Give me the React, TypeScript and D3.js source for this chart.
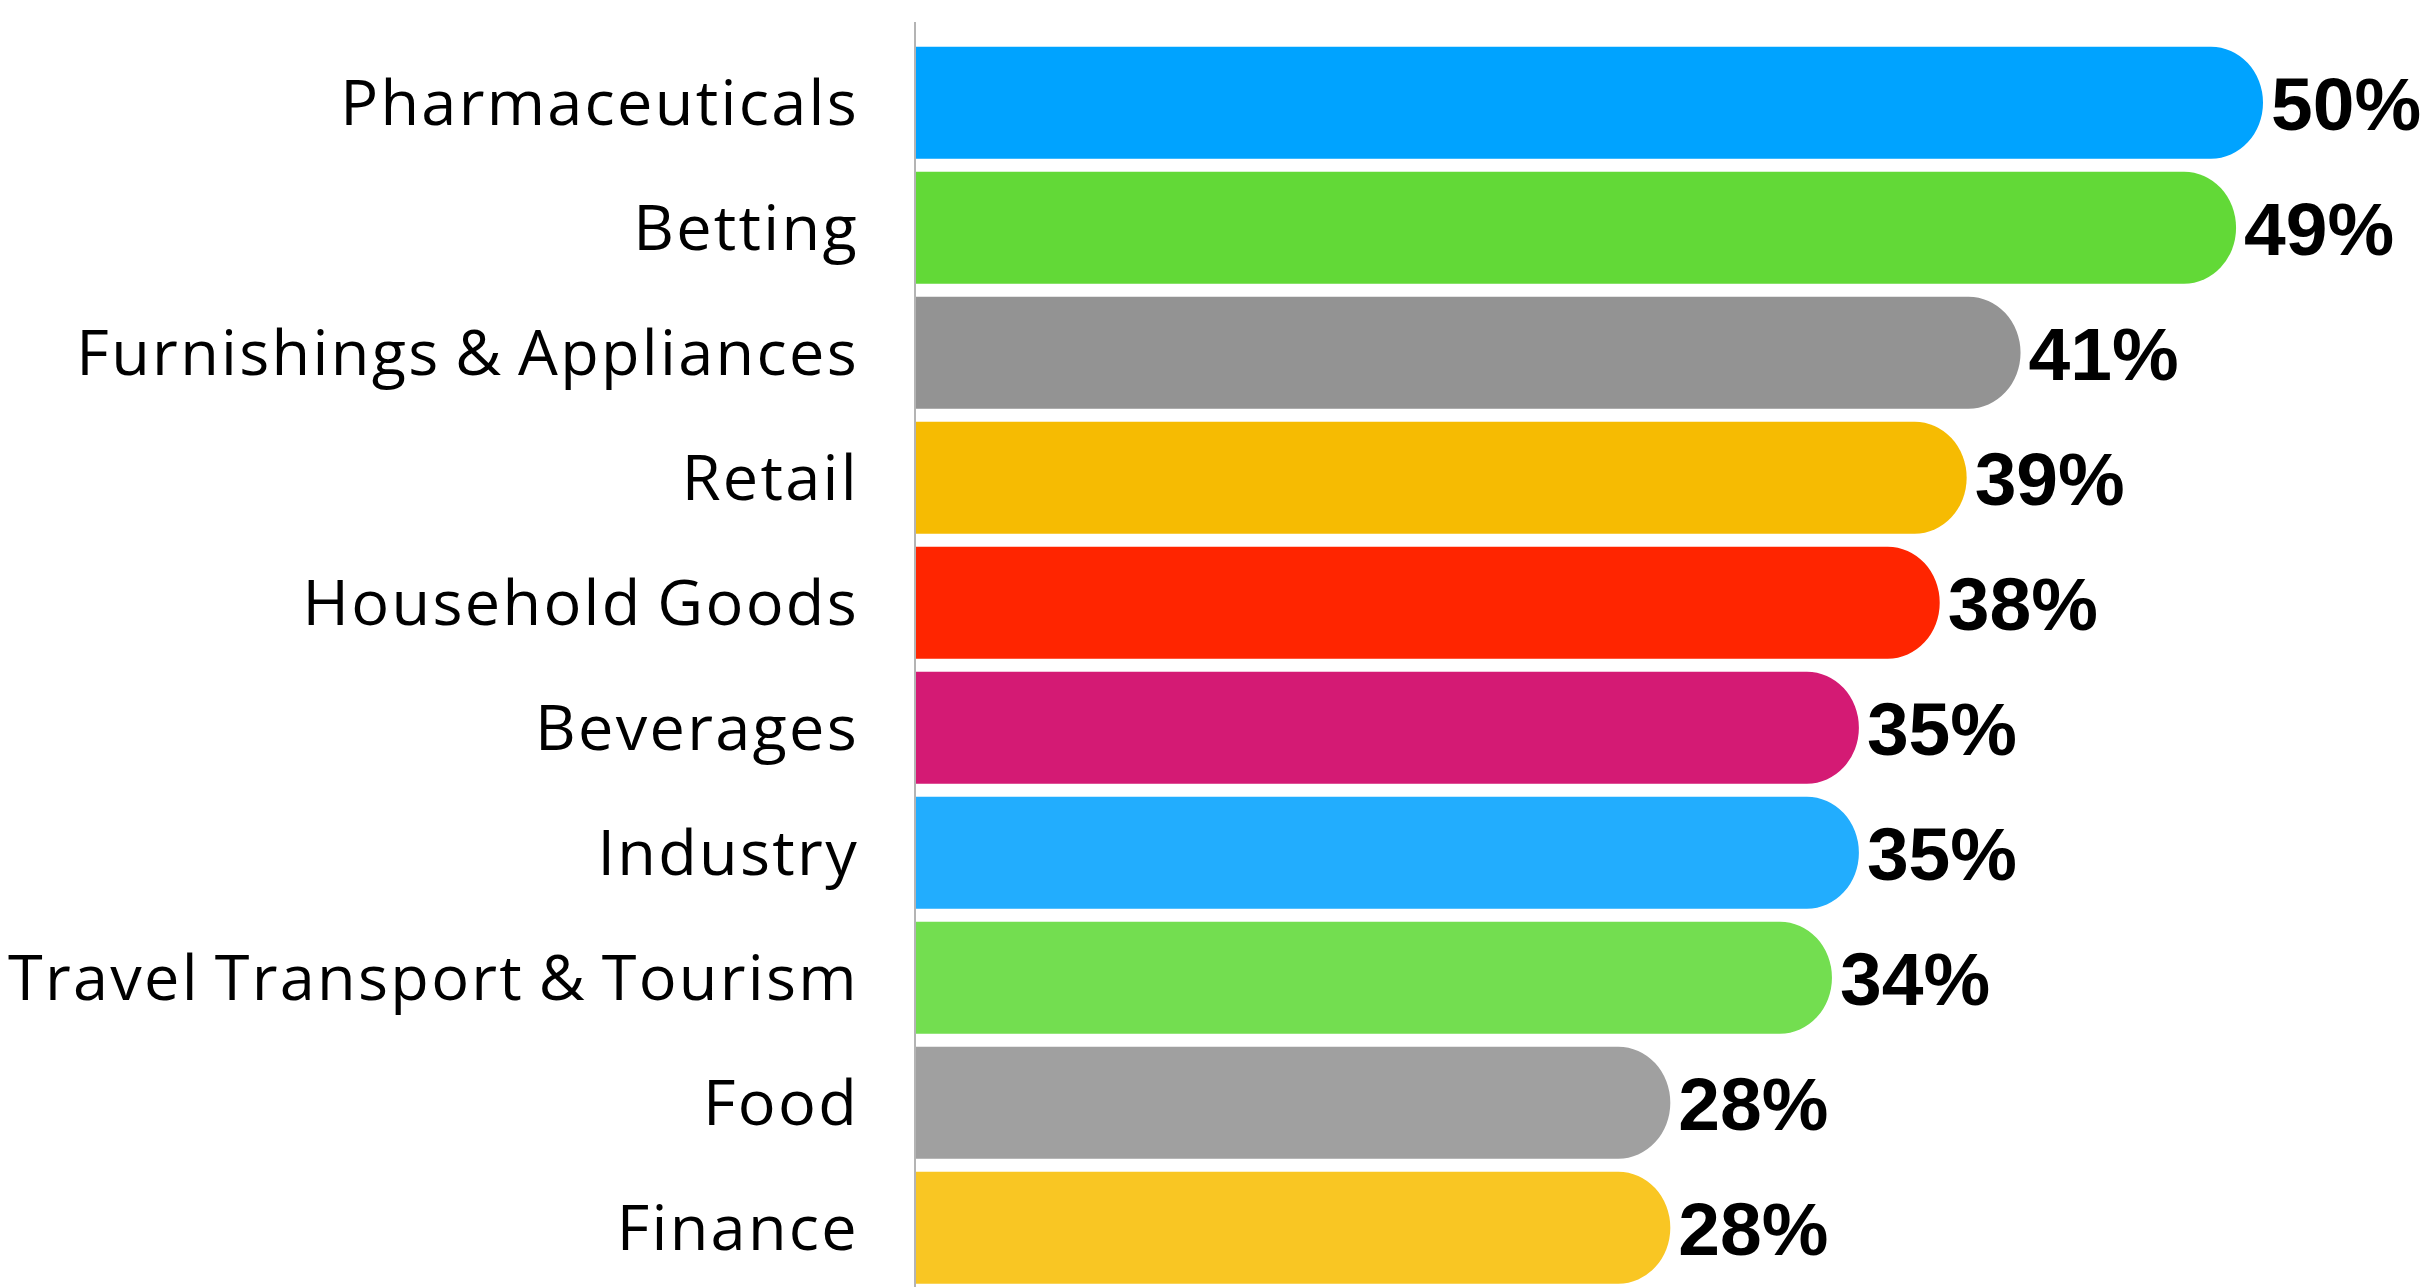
import React from 'react';
import * as d3 from 'd3';

const categories = [
  'Pharmaceuticals',
  'Betting',
  'Furnishings & Appliances',
  'Retail',
  'Household Goods',
  'Beverages',
  'Industry',
  'Travel Transport & Tourism',
  'Food',
  'Finance',
];
const values = [50, 49, 41, 39, 38, 35, 35, 34, 28, 28];
const colors = [
  '#00a3ff',
  '#62d937',
  '#939393',
  '#f6bb02',
  '#ff2500',
  '#d41a74',
  '#22adfe',
  '#73de50',
  '#a0a0a0',
  '#f9c623',
];

const W = 2426;
const H = 1287;

// bar with the right end rounded like a pill
function barPath(x0: number, x1: number, y0: number, h: number) {
  const ry = h / 2;
  const rx = Math.min(52, x1 - x0);
  return `M ${x0} ${y0} H ${x1 - rx} A ${rx} ${ry} 0 0 1 ${x1} ${y0 + ry} A ${rx} ${ry} 0 0 1 ${x1 - rx} ${y0 + h} H ${x0} Z`;
}

export default function App() {
  const x = d3.scaleLinear().domain([0, 50]).range([916, 2263]);
  const y = d3.scaleBand().domain(categories).range([46.7, 1283.7]).paddingInner(0.104).paddingOuter(0);
  const bh = y.bandwidth();

  return (
    <svg width={W} height={H} style={{ position: 'absolute', left: 0, top: 0, background: '#fff' }}>
      {categories.map((c, i) => {
        const top = y(c) as number;
        const cy = top + bh / 2;
        return (
          <g key={c}>
            <path d={barPath(x(0), x(values[i]), top, bh)} fill={colors[i]} />
            <text
              x={859}
              y={cy}
              dy="0.36em"
              textAnchor="end"
              fontFamily="'Open Sans', Lato, sans-serif"
              fontSize={63}
              letterSpacing={2.3}
              wordSpacing={-4}
              fill="#000"
            >
              {c}
            </text>
            <text
              x={x(values[i]) + 8}
              y={cy}
              dy="0.36em"
              fontFamily="'Liberation Sans', Arial, sans-serif"
              fontWeight={700}
              fontSize={75}
              fill="#000"
            >
              {values[i] + '%'}
            </text>
          </g>
        );
      })}
      <line x1={915} x2={915} y1={22} y2={H} stroke="#b4b4b4" strokeWidth={2} />
    </svg>
  );
}
